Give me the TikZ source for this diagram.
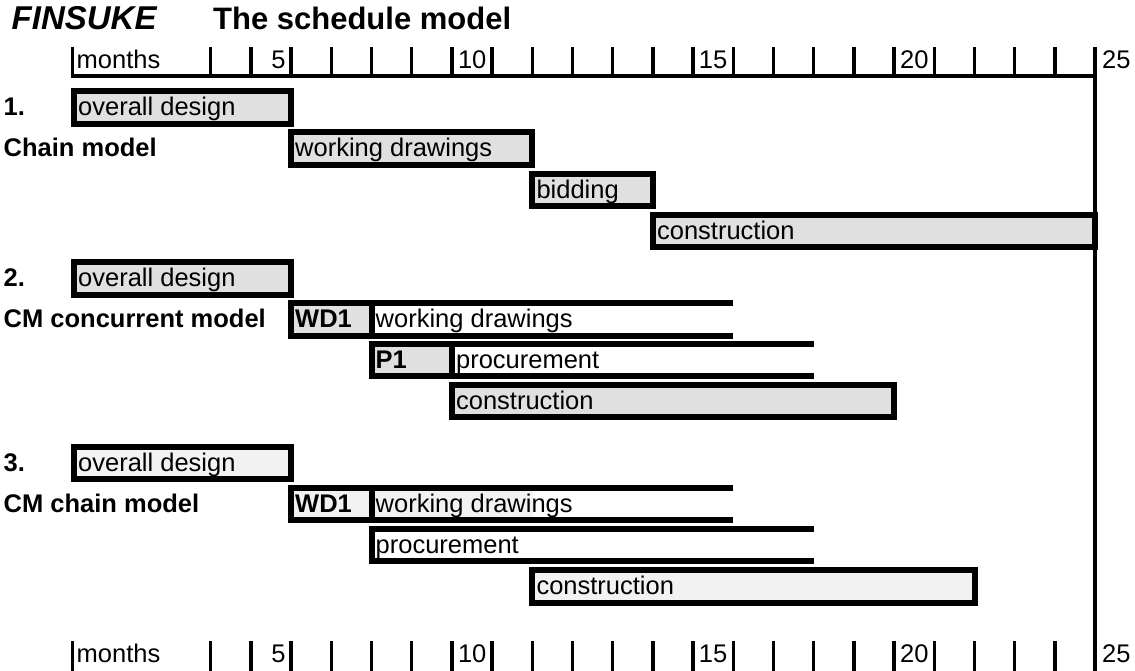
\documentclass[tikz,border=0pt]{standalone}
\usepackage{fontspec}
\setmainfont{Liberation Sans}
\definecolor{barA}{HTML}{E0E0E0}
\definecolor{barB}{HTML}{F2F2F2}
\tikzset{
  barline/.style={line width=6pt, draw=black},
  tickline/.style={line width=3.3pt, draw=black},
  txt/.style={inner sep=0pt, anchor=base west, font=\fontsize{25.5}{30}\selectfont},
  bold/.style={txt, font=\fontsize{25.5}{30}\selectfont\bfseries},
  numr/.style={inner sep=0pt, anchor=base east, font=\fontsize{25.5}{30}\selectfont},
}
% closed bar: x1, x2, top, fill
\newcommand{\gbar}[4]{\filldraw[barline,fill=#4] (#1,{#3+3}) rectangle (#2,{#3+35.4});}
% open-ended bar: x1, x2, top
\newcommand{\obar}[3]{\draw[barline] (#2,{#3+3}) -- (#1,{#3+3}) -- (#1,{#3+35.4}) -- (#2,{#3+35.4});}
\begin{document}
\begin{tikzpicture}[x=1pt,y=-1pt]
\useasboundingbox (0,0) rectangle (1135,671);
% title
\node[inner sep=0pt, anchor=base west, font=\fontsize{33}{36}\selectfont\bfseries\itshape] (fin) at (11.5,30) {FINSUKE};
\node[inner sep=0pt, anchor=base west, font=\fontsize{31}{36}\selectfont\bfseries] (ttl) at (213,30) {The schedule model};
% top axis
\foreach \k in {0,...,21} \draw[tickline] ({210.7+\k*40.2},47) -- ({210.7+\k*40.2},76);
\draw[tickline] (72.7,47) -- (72.7,76) -- (1095.1,76);
\draw[tickline] (1095.1,47) -- (1095.1,671);
\node[txt] (mt) at (76.5,68.3) {months};
\node[numr] (t5) at (285.8,68.3) {5};
\node[numr] (t10) at (486.6,68.3) {10};
\node[numr] (t15) at (727.5,68.3) {15};
\node[numr] (t20) at (928.8,68.3) {20};
\node[txt] (t25) at (1102,68.3) {25};
% bottom axis
\foreach \k in {0,...,21} \draw[tickline] ({210.7+\k*40.2},641) -- ({210.7+\k*40.2},671);
\draw[tickline] (72.7,641) -- (72.7,671);
\node[txt] (mb) at (76.5,662.5) {months};
\node[numr] (b5) at (285.8,662.5) {5};
\node[numr] (b10) at (486.6,662.5) {10};
\node[numr] (b15) at (727.5,662.5) {15};
\node[numr] (b20) at (928.8,662.5) {20};
\node[txt] (b25) at (1102,662.5) {25};
% ---- section 1
\node[bold] (l1) at (3.5,115.7) {1.};
\node[bold] (l1b) at (3.5,156.9) {Chain model};
\gbar{74}{291.1}{88.3}{barA}
\node[txt] (a1) at (78,115.7) {overall design};
\gbar{291.1}{532.3}{129.5}{barA}
\node[txt] (a2) at (295,156.9) {working drawings};
\gbar{532.3}{652.9}{170.7}{barA}
\node[txt] (a3) at (536.3,198.1) {bidding};
\gbar{652.9}{1095.1}{211.9}{barA}
\node[txt] (a4) at (656.9,239.3) {construction};
% ---- section 2
\node[bold] (l2) at (3.5,286.6) {2.};
\node[bold] (l2b) at (3.5,327.6) {CM concurrent model};
\gbar{74}{291.1}{259.2}{barA}
\node[txt] (c1) at (78,286.6) {overall design};
\obar{371.5}{733.3}{300.2}
\gbar{291.1}{371.5}{300.2}{barA}
\node[bold] (c2a) at (295,327.6) {WD1};
\node[txt] (c2) at (375.5,327.6) {working drawings};
\obar{451.9}{813.7}{341.0}
\gbar{371.5}{451.9}{341.0}{barA}
\node[bold] (c3a) at (375.5,368.4) {P1};
\node[txt] (c3) at (455.9,368.4) {procurement};
\gbar{451.9}{894.1}{382.0}{barA}
\node[txt] (c4) at (455.9,409.4) {construction};
% ---- section 3
\node[bold] (l3) at (3.5,471.0) {3.};
\node[bold] (l3b) at (3.5,512.2) {CM chain model};
\gbar{74}{291.1}{443.6}{barB}
\node[txt] (d1) at (78,471.0) {overall design};
\fill[barB] (374.5,{484.8+6}) rectangle (533,{484.8+32.4});
\obar{371.5}{733.3}{484.8}
\gbar{291.1}{371.5}{484.8}{barB}
\node[bold] (d2a) at (295,512.2) {WD1};
\node[txt] (d2) at (375.5,512.2) {working drawings};
\obar{371.5}{813.7}{526.0}
\node[txt] (d3) at (375.5,553.4) {procurement};
\gbar{532.3}{974.5}{567.2}{barB}
\node[txt] (d4) at (536.3,594.6) {construction};
\end{tikzpicture}
\end{document}
